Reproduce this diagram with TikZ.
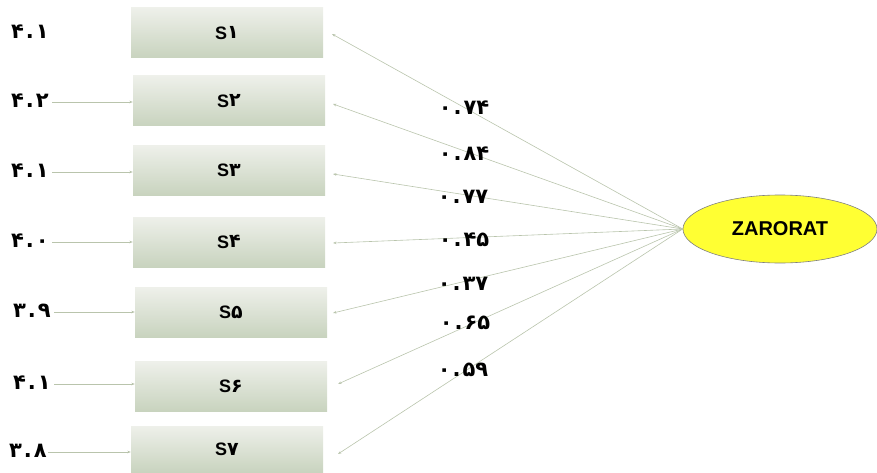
\documentclass[tikz,border=0pt]{standalone}
\usepackage{fontspec}
\setmainfont{Liberation Sans}
\newfontfamily\fadigits{DejaVu Sans}
\usetikzlibrary{arrows.meta,shapes.geometric}
\definecolor{boxtop}{HTML}{EEF0EA}
\definecolor{boxbot}{HTML}{C8D3BE}
\definecolor{linkc}{HTML}{B9C4AC}
\definecolor{latent}{HTML}{FFFF33}
% Persian decimal: digits on either side of a spaced point
\newcommand\fanum[2]{#1\kern2pt.\kern2pt#2}
% item label: Latin S followed by a Persian digit
\newcommand\itemlbl[1]{S{\fadigits\bfseries\fontsize{19}{19}\selectfont\raisebox{0.5pt}{#1}}}
\tikzset{
  itembox/.style={rectangle, minimum width=192pt, minimum height=50pt, inner sep=0pt,
    top color=boxtop, bottom color=boxbot, font=\fontsize{18}{18}\selectfont\bfseries},
  meanlbl/.style={font=\fadigits\bfseries\fontsize{21}{21}\selectfont, inner sep=0pt},
  coeflbl/.style={font=\fadigits\bfseries\fontsize{21}{21}\selectfont, inner sep=0pt},
  link/.style={draw=linkc, line width=0.6pt, -{Stealth[length=3.5pt,width=2.6pt]}},
  latentnode/.style={ellipse, draw=gray, line width=0.6pt, fill=latent,
    minimum width=194pt, minimum height=68pt, inner sep=0pt,
    font=\fontsize{20}{20}\selectfont\bfseries}
}
\begin{document}
\begin{tikzpicture}[x=1pt,y=-1pt]
\useasboundingbox (0,0) rectangle (877,473);

% observed items
\node[itembox] (s1) at (227,33)    {\itemlbl{۱}};
\node[itembox] (s2) at (229,101)   {\itemlbl{۲}};
\node[itembox] (s3) at (229,170.5) {\itemlbl{۳}};
\node[itembox] (s4) at (229,242)   {\itemlbl{۴}};
\node[itembox] (s5) at (231,312.5) {\itemlbl{۵}};
\node[itembox] (s6) at (231,386.5) {\itemlbl{۶}};
\node[itembox, minimum height=47pt] (s7) at (227,449.5) {\itemlbl{۷}};

% latent factor
\node[latentnode] (z) at (780,229) {ZARORAT};

% item means
\node[meanlbl] (m1) at (30,32)  {\fanum{۴}{۱}};
\node[meanlbl] (m2) at (30,101) {\fanum{۴}{۲}};
\node[meanlbl] (m3) at (30,171) {\fanum{۴}{۱}};
\node[meanlbl] (m4) at (30,241) {\fanum{۴}{۰}};
\node[meanlbl] (m5) at (32,311) {\fanum{۳}{۹}};
\node[meanlbl] (m6) at (32,383) {\fanum{۴}{۱}};
\node[meanlbl] (m7) at (28,451) {\fanum{۳}{۸}};

\draw[link] (m2.east) ++(3,1) coordinate (a2) (a2) -- (s2.west |- a2);
\draw[link] (m3.east) ++(3,1) coordinate (a3) (a3) -- (s3.west |- a3);
\draw[link] (m4.east) ++(3,1) coordinate (a4) (a4) -- (s4.west |- a4);
\draw[link] (m5.east) ++(3,1) coordinate (a5) (a5) -- (s5.west |- a5);
\draw[link] (m6.east) ++(3,1) coordinate (a6) (a6) -- (s6.west |- a6);
\draw[link] (m7.east) ++(1,1) coordinate (a7) (a7) -- (s7.west |- a7);

% factor loadings
\coordinate (e1) at (332,34);
\coordinate (e2) at (333,104);
\coordinate (e3) at (333,174);
\coordinate (e4) at (333,243);
\coordinate (e5) at (333,313);
\coordinate (e6) at (338,384);
\coordinate (e7) at (338,454);
\foreach \i in {1,...,7} {
  \draw[link] (z.west) -- (e\i);
}

\node[coeflbl] (c1) at (464,108) {\fanum{۰}{۷۴}};
\node[coeflbl] (c2) at (464,154) {\fanum{۰}{۸۴}};
\node[coeflbl] (c3) at (463,197) {\fanum{۰}{۷۷}};
\node[coeflbl] (c4) at (464,240) {\fanum{۰}{۴۵}};
\node[coeflbl] (c5) at (463,284) {\fanum{۰}{۳۷}};
\node[coeflbl] (c6) at (465,323) {\fanum{۰}{۶۵}};
\node[coeflbl] (c7) at (463,370) {\fanum{۰}{۵۹}};
\end{tikzpicture}
\end{document}
